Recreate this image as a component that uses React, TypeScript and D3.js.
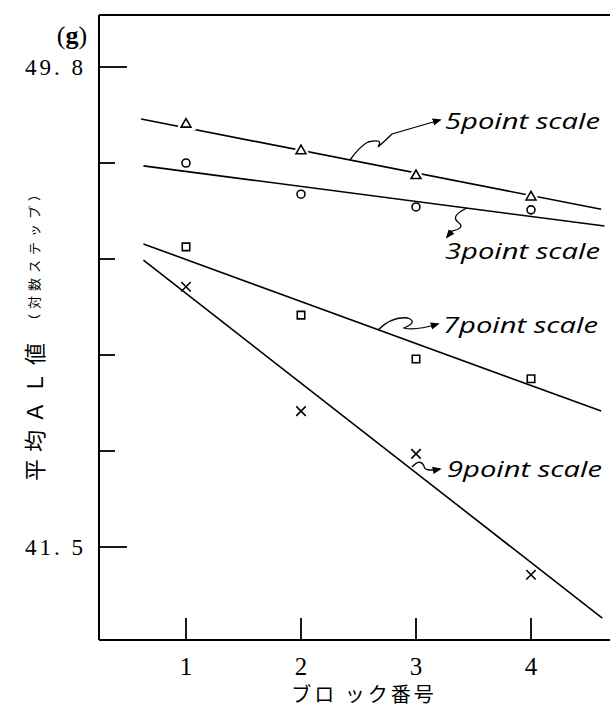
import * as d3 from "d3";

// block numbers and mean AL values
const blocks = [1, 2, 3, 4];
const scale5 = [48.81, 48.35, 47.92, 47.55];
const scale3 = [48.14, 47.6, 47.38, 47.33];
const scale7 = [46.69, 45.51, 44.75, 44.41];
const scale9 = [46.0, 43.85, 43.11, 41.02];

// fitted lines: [block, value] at both ends
const fit5 = [[0.61, 48.9], [4.61, 47.34]];
const fit3 = [[0.63, 48.09], [4.64, 47.05]];
const fit7 = [[0.63, 46.74], [4.61, 43.85]];
const fit9 = [[0.63, 46.46], [4.62, 40.27]];

const yTicks = [49.8, 48.14, 46.48, 44.82, 43.16, 41.5];
const yTickLabels = ["49. 8", "", "", "", "", "41. 5"];
const xTickLabels = ["1", "2", "3", "4"];

const W = 610;
const H = 710;
const left = 99;
const top = 15;
const bottom = 640;

const x = d3.scaleLinear().domain([1, 4]).range([186, 531]);
const y = d3.scaleLinear().domain([41.5, 49.8]).range([547, 67]);
const line = d3
  .line<number[]>()
  .x((d) => x(d[0]))
  .y((d) => y(d[1]));

const SERIF = "'Liberation Serif', 'DejaVu Serif', serif";
const JP = "'Noto Sans CJK JP', sans-serif";
const HAND = "'Open Sans', 'DejaVu Sans', sans-serif";

const symTri = d3.symbol(d3.symbolTriangle, 42)()!;
const symCircle = d3.symbol(d3.symbolCircle, 50)()!;
const symSquare = d3.symbol(d3.symbolSquare, 56)()!;
const symCross = d3.symbol(d3.symbolX, 60)()!;

const series = [
  { values: scale5, fit: fit5, sym: symTri, halo: true },
  { values: scale3, fit: fit3, sym: symCircle, halo: false },
  { values: scale7, fit: fit7, sym: symSquare, halo: false },
  { values: scale9, fit: fit9, sym: symCross, halo: false },
];

// handwritten labels with squiggly arrows
const notes = [
  {
    text: "5point scale",
    tx: 445,
    ty: 129,
    path: "M350,160 Q360,146 368,142 Q384,138 378,147 Q386,140 392,134 L440,120",
  },
  {
    text: "3point scale",
    tx: 445,
    ty: 259,
    path: "M467,208 Q450,216 458,222 Q466,228 452,231 L447,237",
  },
  {
    text: "7point scale",
    tx: 443,
    ty: 333,
    path: "M378,330 Q392,316 408,318 Q418,322 404,328 Q414,331 438,324",
  },
  {
    text: "9point scale",
    tx: 447,
    ty: 477,
    path: "M412,467 Q420,458 424,466 Q424,472 440,469",
  },
];

export default function App() {
  return (
    <svg
      width={W}
      height={H}
      style={{ position: "absolute", left: 0, top: 0, background: "#fff" }}
    >
      <defs>
        <marker
          id="arr"
          viewBox="0 0 10 10"
          refX="8"
          refY="5"
          markerWidth="7"
          markerHeight="7"
          orient="auto"
        >
          <path d="M0,1 L10,5 L0,9 Z" fill="#000" />
        </marker>
      </defs>

      {/* frame */}
      <g stroke="#000" strokeWidth={2} fill="none">
        <line x1={left} y1={top} x2={W} y2={top} />
        <line x1={left} y1={top} x2={left} y2={bottom} />
        <line x1={left} y1={bottom} x2={W} y2={bottom} />
      </g>

      {/* y ticks */}
      {yTicks.map((t, i) => (
        <g key={t}>
          <line
            x1={left}
            x2={left + (yTickLabels[i] ? 28 : 16)}
            y1={y(t)}
            y2={y(t)}
            stroke="#000"
            strokeWidth={1.8}
          />
          {yTickLabels[i] && (
            <text
              x={86}
              y={y(t) + 8}
              textAnchor="end"
              fontFamily={SERIF}
              fontSize={23}
              letterSpacing={3}
            >
              {yTickLabels[i]}
            </text>
          )}
        </g>
      ))}
      <text x={72} y={44} textAnchor="middle" fontFamily={SERIF} fontSize={26}>
        (<tspan fontWeight="bold">g</tspan>)
      </text>

      {/* x ticks */}
      {blocks.map((b, i) => (
        <g key={b}>
          <line
            x1={x(b)}
            x2={x(b)}
            y1={bottom}
            y2={bottom - 22}
            stroke="#000"
            strokeWidth={1.8}
          />
          <text
            x={x(b)}
            y={675}
            textAnchor="middle"
            fontFamily={SERIF}
            fontSize={25}
          >
            {xTickLabels[i]}
          </text>
        </g>
      ))}
      <text
        x={364}
        y={702}
        textAnchor="middle"
        fontFamily={JP}
        fontSize={20}
        letterSpacing={3}
      >
        ブロ ック番号
      </text>

      {/* y title */}
      <text
        transform="translate(33,481) rotate(-90)"
        fontFamily={JP}
        fontSize={22}
        letterSpacing={7}
        dominantBaseline="central"
      >
        平均ＡＬ値
      </text>
      <text
        transform="translate(33,327) rotate(-90)"
        fontFamily={JP}
        fontSize={13}
        letterSpacing={5}
        dominantBaseline="central"
      >
        （対数ステップ）
      </text>

      {/* fitted lines */}
      {series.map((s, i) => (
        <path
          key={"l" + i}
          d={line(s.fit)!}
          fill="none"
          stroke="#000"
          strokeWidth={1.6}
        />
      ))}

      {/* points */}
      {series.map((s, i) =>
        s.values.map((v, j) => (
          <g key={"p" + i + j} transform={`translate(${x(blocks[j])},${y(v)})`}>
            {s.halo && (
              <path d={s.sym} fill="#fff" stroke="#fff" strokeWidth={6} />
            )}
            <path d={s.sym} fill="#fff" stroke="#000" strokeWidth={1.6} />
          </g>
        ))
      )}

      {/* annotations */}
      {notes.map((n) => (
        <g key={n.text}>
          <path
            d={n.path}
            fill="none"
            stroke="#000"
            strokeWidth={1.3}
            markerEnd="url(#arr)"
          />
          <text
            x={n.tx}
            y={n.ty}
            fontFamily={HAND}
            fontStyle="italic"
            fontSize={21}
            textLength={155}
            lengthAdjust="spacingAndGlyphs"
          >
            {n.text}
          </text>
        </g>
      ))}
    </svg>
  );
}
